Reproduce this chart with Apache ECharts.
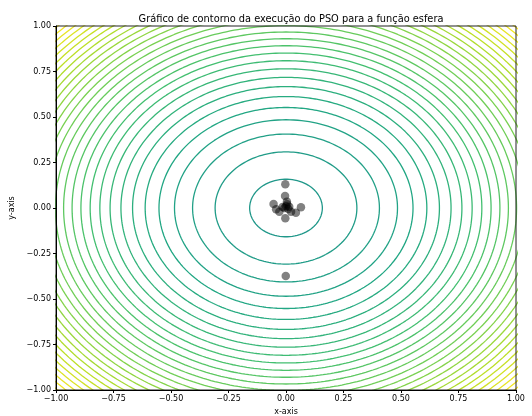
<!DOCTYPE html>
<html>
<head>
<meta charset="utf-8">
<script src="https://cdn.jsdelivr.net/npm/echarts@6/dist/echarts.min.js"></script>
<style>html,body{margin:0;padding:0;background:#fff}#c{width:532px;height:416px}</style>
</head>
<body>
<div id="c"></div>
<script>
// Contour levels of f(x,y) = x^2 + y^2 (values of f on each drawn ring)
const levels = [0.025, 0.095, 0.165, 0.235, 0.305, 0.375, 0.445, 0.515, 0.585, 0.655,
  0.725, 0.795, 0.865, 0.935, 1.005, 1.075, 1.145, 1.215, 1.285, 1.355,
  1.425, 1.495, 1.565, 1.635, 1.705, 1.775, 1.845, 1.915, 1.985];
// Final particle positions (x, y)
const particlesX = [-0.003, -0.004, 0.004, -0.054, -0.043, -0.007, 0.014, 0.065, 0.043, -0.003, -0.029, 0.022, -0.001, 0.000, 0.010, -0.015, 0.005];
const particlesY = [0.130, 0.066, 0.035, 0.022, -0.007, 0.000, 0.007, 0.004, -0.026, -0.056, -0.020, -0.020, -0.373, 0.010, -0.005, 0.005, 0.020];
const tickValues = [-1.00, -0.75, -0.50, -0.25, 0.00, 0.25, 0.50, 0.75, 1.00];

const viridis = ['#440154','#482475','#414487','#355f8d','#2a788e','#21918c','#22a884','#44bf70','#7ad151','#bddf26','#fde725'];
function hex2rgb(h){return [parseInt(h.slice(1,3),16),parseInt(h.slice(3,5),16),parseInt(h.slice(5,7),16)];}
function cmap(t){
  t = Math.max(0, Math.min(1, t));
  const p = t * 10, i = Math.min(9, Math.floor(p)), f = p - i;
  const a = hex2rgb(viridis[i]), b = hex2rgb(viridis[i+1]);
  return 'rgb(' + a.map((v,k)=>Math.round(v + (b[k]-v)*f)).join(',') + ')';
}
const cLo = 0.53, cHi = 1.0;
const lmin = levels[0], lmax = levels[levels.length-1];

const series = levels.map(L => {
  const r = Math.sqrt(L);
  const pts = [];
  for (let k = 0; k <= 360; k++) {
    const a = k * Math.PI / 180;
    pts.push([r * Math.cos(a), r * Math.sin(a)]);
  }
  return {
    type: 'line', data: pts, showSymbol: false, symbol: 'none', smooth: false,
    clip: true, silent: true, animation: false,
    lineStyle: { width: 1.3, color: cmap(cLo + (cHi - cLo) * (L - lmin) / (lmax - lmin)) },
    z: 2
  };
});
series.push({
  type: 'scatter',
  data: particlesX.map((x, i) => [x, particlesY[i]]),
  symbolSize: 8.5,
  itemStyle: { color: 'rgba(0,0,0,0.62)' },
  animation: false, z: 5
});

const fmt = v => { const s = Math.abs(v).toFixed(2); return v < 0 ? '\u2212' + s : s; };
const font = 'DejaVu Sans';
function axis(name, gap, margin, rot) {
  return {
    type: 'value', min: -1, max: 1, interval: 0.25, z: 10,
    name: name, nameLocation: 'middle', nameGap: gap, nameRotate: rot,
    nameTextStyle: { fontFamily: font, fontSize: 8, color: '#000' },
    axisLine: { show: true, onZero: false, lineStyle: { color: '#000', width: 1 } },
    axisTick: { show: true, inside: false, length: 3, lineStyle: { color: '#000' } },
    axisLabel: { fontFamily: font, fontSize: 8, color: '#000', margin: margin,
      formatter: v => tickValues.some(t => Math.abs(t - v) < 1e-9) ? fmt(v) : '' },
    splitLine: { show: false }
  };
}

const chart = echarts.init(document.getElementById('c'), null, { renderer: 'canvas' });
chart.setOption({
  backgroundColor: '#fff',
  animation: false,
  title: {
    text: 'Gráfico de contorno da execução do PSO para a função esfera',
    left: 286, top: 9, textAlign: 'center',
    textStyle: { fontFamily: font, fontSize: 9.8, fontWeight: 'normal', color: '#000' }
  },
  grid: { left: 56, right: 16, top: 26, bottom: 26, show: true, borderColor: '#222', borderWidth: 1, z: 10,
    backgroundColor: 'transparent', containLabel: false, outerBoundsMode: 'none' },
  xAxis: axis('x-axis', 17, 5, 0),
  yAxis: axis('y-axis', 33, 5, 90),
  series: series
});
</script>
</body>
</html>
